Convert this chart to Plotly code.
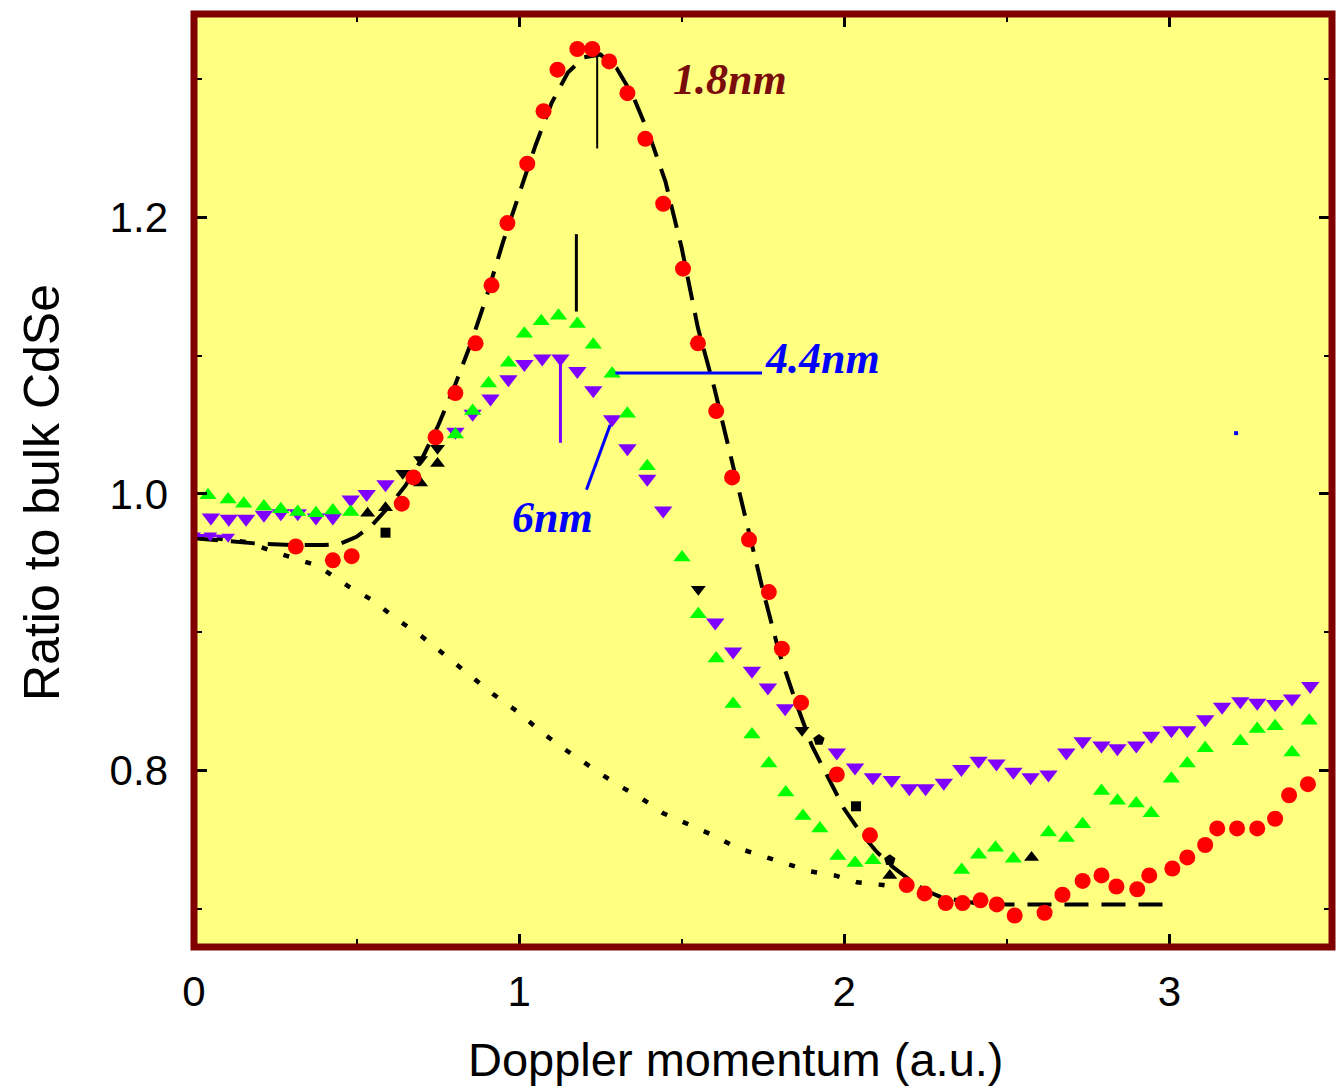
import plotly.graph_objects as go

# ---- 1.8 nm CdSe nanocrystals (ratio to bulk) ----
red_x = [0.313, 0.427, 0.485, 0.639, 0.675, 0.743, 0.804, 0.866, 0.915, 0.964,
         1.025, 1.075, 1.118, 1.179, 1.225, 1.277, 1.333, 1.388, 1.443, 1.504,
         1.550, 1.606, 1.655, 1.707, 1.768, 1.808, 1.867, 1.977, 2.079, 2.192,
         2.247, 2.312, 2.364, 2.419, 2.469, 2.524, 2.616, 2.671, 2.733, 2.791,
         2.837, 2.901, 2.938, 3.009, 3.055, 3.110, 3.147, 3.208, 3.270, 3.325,
         3.368, 3.426]
red_y = [0.962, 0.952, 0.955, 0.993, 1.012, 1.041, 1.073, 1.109, 1.151, 1.196,
         1.239, 1.277, 1.307, 1.322, 1.322, 1.313, 1.290, 1.257, 1.210, 1.163,
         1.109, 1.060, 1.012, 0.967, 0.929, 0.888, 0.849, 0.797, 0.753, 0.717,
         0.711, 0.704, 0.704, 0.706, 0.703, 0.695, 0.697, 0.710, 0.720, 0.724,
         0.716, 0.714, 0.724, 0.729, 0.737, 0.746, 0.758, 0.758, 0.758, 0.765,
         0.782, 0.790]

# ---- 4.4 nm ----
green_x = [0.043, 0.105, 0.153, 0.215, 0.267, 0.319, 0.375, 0.427, 0.482,
           0.804, 0.857, 0.906, 0.967, 1.016, 1.068, 1.121, 1.179, 1.228, 1.286,
           1.333, 1.394, 1.501, 1.551, 1.606, 1.658, 1.716, 1.768, 1.820, 1.873,
           1.925, 1.980, 2.033, 2.088, 2.361, 2.413, 2.465, 2.520, 2.628,
           2.683, 2.733, 2.791, 2.840, 2.898, 2.944, 3.006, 3.055, 3.110, 3.218,
           3.270, 3.325, 3.377, 3.430]
green_y = [0.999, 0.996, 0.993, 0.991, 0.989, 0.987, 0.986, 0.988, 0.987,
           1.043, 1.060, 1.080, 1.095, 1.116, 1.125, 1.129, 1.123, 1.108, 1.087,
           1.058, 1.020, 0.954, 0.913, 0.881, 0.848, 0.826, 0.805, 0.784, 0.767,
           0.758, 0.738, 0.733, 0.735, 0.728, 0.739, 0.744, 0.736, 0.755,
           0.751, 0.761, 0.785, 0.778, 0.776, 0.769, 0.794, 0.805, 0.816, 0.821,
           0.830, 0.832, 0.813, 0.836]

# ---- 6 nm ----
purple_x = [0.052, 0.107, 0.160, 0.215, 0.267, 0.319, 0.375, 0.427, 0.482, 0.531,
            0.589, 0.804, 0.857, 0.912, 0.967, 1.016, 1.071, 1.127, 1.179, 1.228,
            1.286, 1.333, 1.394, 1.443, 1.603, 1.658, 1.716, 1.765, 1.818, 1.977,
            2.033, 2.088, 2.146, 2.200, 2.250, 2.306, 2.360, 2.413, 2.468, 2.520,
            2.573, 2.628, 2.683, 2.733, 2.791, 2.840, 2.898, 2.944, 3.006, 3.055,
            3.110, 3.162, 3.218, 3.270, 3.325, 3.377, 3.433]
purple_y = [0.983, 0.982, 0.982, 0.985, 0.986, 0.986, 0.983, 0.983, 0.996, 1.000,
            1.007, 1.045, 1.058, 1.069, 1.083, 1.094, 1.098, 1.098, 1.089, 1.075,
            1.054, 1.033, 1.011, 0.988, 0.907, 0.886, 0.872, 0.860, 0.845, 0.813,
            0.802, 0.795, 0.793, 0.787, 0.787, 0.791, 0.801, 0.807, 0.805, 0.799,
            0.795, 0.797, 0.813, 0.821, 0.818, 0.816, 0.818, 0.825, 0.829, 0.829,
            0.837, 0.846, 0.850, 0.849, 0.848, 0.852, 0.861]
purple_start_x = [0.0, 0.05, 0.105]
purple_start_y = [0.970, 0.970, 0.969]

# ---- black points (uncoloured duplicates) ----
black_up_x = [0.534, 0.589, 0.697, 0.749, 2.140, 2.576]
black_up_y = [0.986, 0.990, 1.008, 1.022, 0.724, 0.737]
black_down_x = [0.642, 0.697, 0.749, 1.551, 1.870]
black_down_y = [1.015, 1.025, 1.033, 0.931, 0.829]
black_sq_x = [0.589, 2.036]
black_sq_y = [0.972, 0.774]
black_dot_x = [1.922, 2.140]
black_dot_y = [0.822, 0.735]

# ---- model curve for 1.8 nm (dashed) ----
fit_x = [0.0, 0.1, 0.2, 0.3, 0.4, 0.45, 0.5, 0.55, 0.6, 0.65, 0.7, 0.75, 0.8,
         0.85, 0.9, 0.95, 1.0, 1.05, 1.1, 1.15, 1.2, 1.25, 1.3, 1.35, 1.4, 1.45,
         1.5, 1.55, 1.6, 1.65, 1.7, 1.75, 1.8, 1.85, 1.9, 1.95, 2.0, 2.05, 2.1,
         2.15, 2.2, 2.25, 2.3, 2.4, 2.5, 2.6, 2.8, 3.0]
fit_y = [0.968, 0.966, 0.964, 0.963, 0.963, 0.964, 0.969, 0.978, 0.991, 1.006,
         1.025, 1.049, 1.077, 1.108, 1.143, 1.182, 1.218, 1.252, 1.283, 1.305,
         1.316, 1.318, 1.308, 1.288, 1.260, 1.226, 1.178, 1.120, 1.077, 1.027,
         0.977, 0.930, 0.885, 0.850, 0.818, 0.795, 0.772, 0.755, 0.741, 0.730,
         0.721, 0.713, 0.708, 0.704, 0.703, 0.703, 0.703, 0.703]

# ---- reference curve (dotted) ----
ref_x = [0.0, 0.166, 0.261, 0.381, 0.476, 0.550, 0.620, 0.700, 0.774, 0.844,
         0.921, 0.998, 1.072, 1.148, 1.222, 1.299, 1.375, 1.443, 1.520, 1.597,
         1.670, 1.747, 1.818, 1.894, 1.971, 2.039, 2.119, 2.200]
ref_y = [0.970, 0.965, 0.957, 0.948, 0.933, 0.923, 0.910, 0.897, 0.883, 0.870,
         0.855, 0.842, 0.827, 0.814, 0.802, 0.790, 0.780, 0.769, 0.761, 0.753,
         0.744, 0.738, 0.733, 0.727, 0.724, 0.719, 0.717, 0.714]

# ---- labels and their pointer lines (data coordinates) ----
label_text = ["1.8nm", "4.4nm", "6nm"]
label_x = [1.649, 1.932, 1.104]
label_y = [1.300, 1.098, 0.983]
label_color = ["#7a0c0c", "#0000ff", "#0000ff"]

ptr_18_x = [1.240, 1.240]
ptr_18_y = [1.317, 1.250]
ptr_44a_x = [1.176, 1.176]
ptr_44a_y = [1.188, 1.132]
ptr_44b_x = [1.296, 1.747]
ptr_44b_y = [1.0875, 1.0875]
ptr_6a_x = [1.127, 1.127]
ptr_6a_y = [1.098, 1.037]
ptr_6b_x = [1.207, 1.280]
ptr_6b_y = [1.003, 1.050]
stray_x = [3.205]
stray_y = [1.044]

x_title = "Doppler momentum (a.u.)"
y_title = "Ratio to bulk CdSe"

RED = "#ff0000"
GREEN = "#00ff00"
PURPLE = "#8000ff"
FRAME = "#800000"

fig = go.Figure()

fig.add_trace(go.Scatter(x=ref_x, y=ref_y, mode="lines",
                         line=dict(color="black", width=4.5, dash="6px,17px")))
fig.add_trace(go.Scatter(x=fit_x, y=fit_y, mode="lines",
                         line=dict(color="black", width=4, dash="24px,13px")))

fig.add_trace(go.Scatter(x=black_up_x, y=black_up_y, mode="markers",
                         marker=dict(symbol="triangle-up", size=13, color="black")))
fig.add_trace(go.Scatter(x=black_down_x, y=black_down_y, mode="markers",
                         marker=dict(symbol="triangle-down", size=13, color="black")))
fig.add_trace(go.Scatter(x=black_sq_x, y=black_sq_y, mode="markers",
                         marker=dict(symbol="square", size=10, color="black")))
fig.add_trace(go.Scatter(x=black_dot_x, y=black_dot_y, mode="markers",
                         marker=dict(symbol="pentagon", size=12, color="black")))

fig.add_trace(go.Scatter(x=purple_start_x, y=purple_start_y, mode="lines+markers",
                         line=dict(color=PURPLE, width=3),
                         marker=dict(symbol="triangle-down", size=12, color=PURPLE)))
fig.add_trace(go.Scatter(x=purple_x, y=purple_y, mode="markers",
                         marker=dict(symbol="triangle-down", size=16, color=PURPLE)))
fig.add_trace(go.Scatter(x=green_x, y=green_y, mode="markers",
                         marker=dict(symbol="triangle-up", size=15, color=GREEN)))
fig.add_trace(go.Scatter(x=red_x, y=red_y, mode="markers",
                         marker=dict(symbol="circle", size=16, color=RED)))

# pointer lines
for px, py, col, w in [(ptr_18_x, ptr_18_y, "black", 2),
                       (ptr_44a_x, ptr_44a_y, "black", 3),
                       (ptr_44b_x, ptr_44b_y, "#0000ff", 3),
                       (ptr_6a_x, ptr_6a_y, PURPLE, 3),
                       (ptr_6b_x, ptr_6b_y, "#0000ff", 3)]:
    fig.add_trace(go.Scatter(x=px, y=py, mode="lines",
                             line=dict(color=col, width=w)))
fig.add_trace(go.Scatter(x=stray_x, y=stray_y, mode="markers",
                         marker=dict(symbol="square", size=4, color="#0000ff")))

for t, x, y, c in zip(label_text, label_x, label_y, label_color):
    fig.add_annotation(x=x, y=y, text="<b><i>%s</i></b>" % t, showarrow=False,
                       font=dict(family="Liberation Serif", size=44, color=c))

# axis titles
fig.add_annotation(xref="paper", yref="paper", x=0.4754, y=-0.1211,
                   xanchor="center", yanchor="middle", text=x_title, showarrow=False,
                   font=dict(family="Liberation Sans", size=47, color="black"))
fig.add_annotation(xref="paper", yref="paper", x=-0.1336, y=0.4877,
                   xanchor="center", yanchor="middle", text=y_title, showarrow=False,
                   textangle=-90,
                   font=dict(family="Liberation Sans", size=50, color="black"))

axis_font = dict(family="Liberation Sans", size=42, color="black")

fig.update_xaxes(range=[0, 3.5], tickvals=[0, 1, 2, 3], ticktext=["0", "1", "2", "3"],
                 ticks="inside", ticklen=13, tickwidth=3, tickcolor="black",
                 minor=dict(ticks="inside", ticklen=8, tickwidth=2, tickcolor="black",
                            dtick=0.5, tick0=0),
                 showline=False, mirror="ticks", showgrid=False, zeroline=False,
                 tickfont=axis_font, ticklabelstandoff=16)
fig.update_yaxes(range=[0.6722, 1.3473], tickvals=[0.8, 1.0, 1.2],
                 ticktext=["0.8", "1.0", "1.2"],
                 ticks="inside", ticklen=13, tickwidth=3, tickcolor="black",
                 minor=dict(ticks="inside", ticklen=8, tickwidth=2, tickcolor="black",
                            dtick=0.1, tick0=0),
                 showline=False, mirror="ticks", showgrid=False, zeroline=False,
                 tickfont=axis_font, ticklabelstandoff=25)

fig.add_shape(type="rect", xref="paper", yref="paper", x0=0, y0=0, x1=1, y1=1,
              line=dict(color=FRAME, width=7), layer="above")

fig.update_layout(width=1339, height=1091,
                  margin=dict(l=194, r=7, t=14, b=144, pad=0),
                  plot_bgcolor="#ffff80", paper_bgcolor="white",
                  showlegend=False)

fig.write_html("out.html")
